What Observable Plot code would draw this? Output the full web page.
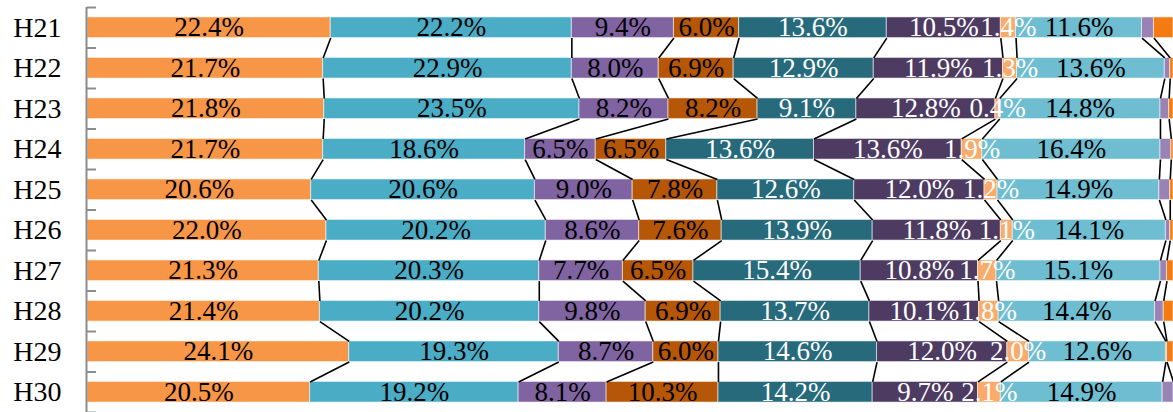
<!DOCTYPE html>
<html>
<head>
<meta charset="utf-8">
<script src="https://cdn.jsdelivr.net/npm/d3@7"></script>
<script src="https://cdn.jsdelivr.net/npm/@observablehq/plot@0.6"></script>
<style>
  html, body { margin: 0; padding: 0; background: #fff; }
  svg text { font-family: "Liberation Serif", "DejaVu Serif", serif !important; }
</style>
</head>
<body>
<div id="chart"></div>
<script>
// Fiscal years (Heisei), top to bottom
const years = ["H21", "H22", "H23", "H24", "H25", "H26", "H27", "H28", "H29", "H30"];

// Share (%) of each component per year, in stacking order left to right
const share1  = [22.4, 21.7, 21.8, 21.7, 20.6, 22.0, 21.3, 21.4, 24.1, 20.5];
const share2  = [22.2, 22.9, 23.5, 18.6, 20.6, 20.2, 20.3, 20.2, 19.3, 19.2];
const share3  = [9.4, 8.0, 8.2, 6.5, 9.0, 8.6, 7.7, 9.8, 8.7, 8.1];
const share4  = [6.0, 6.9, 8.2, 6.5, 7.8, 7.6, 6.5, 6.9, 6.0, 10.3];
const share5  = [13.6, 12.9, 9.1, 13.6, 12.6, 13.9, 15.4, 13.7, 14.6, 14.2];
const share6  = [10.5, 11.9, 12.8, 13.6, 12.0, 11.8, 10.8, 10.1, 12.0, 9.7];
const share7  = [1.4, 1.3, 0.4, 1.9, 1.2, 1.1, 1.7, 1.8, 2.0, 2.1];
const share8  = [11.6, 13.6, 14.8, 16.4, 14.9, 14.1, 15.1, 14.4, 12.6, 14.9];
const share9  = [1.1, 0.5, 0.8, 1.0, 1.0, 0.4, 0.6, 0.8, 0.1, 1.0];
const share10 = [1.8, 0.3, 0.4, 0.2, 0.3, 0.3, 0.6, 0.9, 0.6, 0.0];

const shares = [share1, share2, share3, share4, share5, share6, share7, share8, share9, share10];

// Styling per component
const fills = ["#F79646", "#4BACC6", "#8064A2", "#B65708", "#276A7C",
               "#4D3B62", "#F9AB6B", "#6FBDD1", "#9983B5", "#F47B12"];
const inks  = ["black", "black", "black", "black", "white",
               "white", "white", "black", null, null];

const serif = "'Liberation Serif', 'DejaVu Serif', serif";
const barHalf = 0.255; // half bar thickness, in row units

// Stack each year's components into [x1, x2] segments
const segments = [];
years.forEach((year, row) => {
  let acc = 0;
  shares.forEach((values, k) => {
    const v = values[row];
    segments.push({year, row, k, value: v, x1: acc, x2: acc + v, fill: fills[k], ink: inks[k]});
    acc += v;
  });
});

const segAt = (row, k) => segments.find(s => s.row === row && s.k === k);

// Connector lines join each component boundary between consecutive years
const connectors = [];
for (let row = 0; row < years.length - 1; ++row) {
  for (let k = 0; k < shares.length - 1; ++k) {
    connectors.push({
      x1: segAt(row, k).x2, y1: row + barHalf,
      x2: segAt(row + 1, k).x2, y2: row + 1 - barHalf
    });
  }
}

const labelled = segments.filter(s => s.ink);
const rowEdges = d3.range(years.length + 1).map(i => i - 0.5);

const chart = Plot.plot({
  width: 1173,
  height: 412,
  marginLeft: 87,
  marginRight: 0,
  marginTop: 7,
  marginBottom: 0,
  x: {domain: [0, 100], axis: null},
  y: {domain: [-0.5, years.length - 0.5], reverse: true, axis: null},
  color: {type: "identity"},
  style: {fontFamily: serif, background: "white", color: "black"},
  marks: [
    Plot.rect(segments, {
      x1: "x1", x2: "x2",
      y1: d => d.row - barHalf, y2: d => d.row + barHalf,
      fill: "fill", stroke: "white", strokeOpacity: 0.55, strokeWidth: 1
    }),
    Plot.link(connectors, {
      x1: "x1", y1: "y1", x2: "x2", y2: "y2",
      stroke: "black", strokeWidth: 1.6
    }),
    Plot.text(labelled, {
      x: d => (d.x1 + d.x2) / 2,
      y: "row",
      text: d => d.value.toFixed(1) + "%",
      fill: "ink",
      fontFamily: serif,
      fontSize: 27
    }),
    Plot.ruleX([0], {y1: -0.5, y2: years.length - 0.5, stroke: "#8c8c8c", strokeWidth: 2, dx: -1}),
    Plot.axisY(rowEdges, {tickSize: -9, tickFormat: () => "", stroke: "#8c8c8c", strokeWidth: 2}),
    Plot.axisY(d3.range(years.length), {
      tickSize: 0, tickPadding: 26, tickFormat: i => years[i],
      fontFamily: serif, fontSize: 28, fill: "black"
    })
  ]
});

document.getElementById("chart").append(chart);
</script>
</body>
</html>
